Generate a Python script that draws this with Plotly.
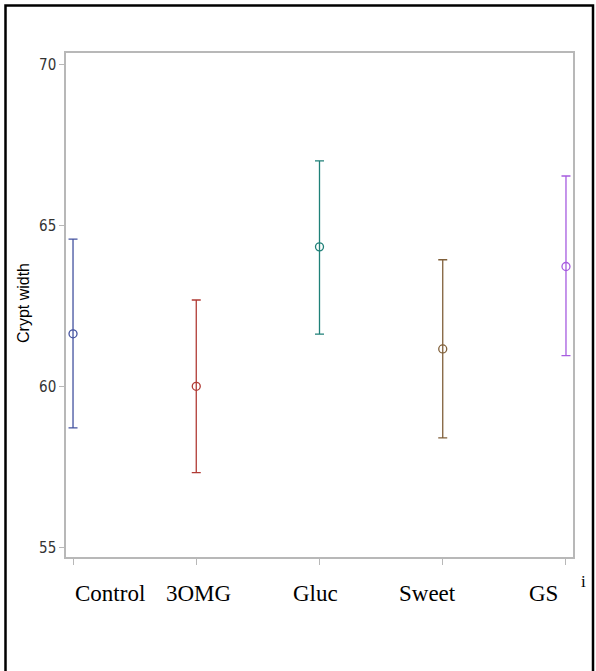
import plotly.graph_objects as go

groups = ["Control", "3OMG", "Gluc", "Sweet", "GS"]
means = [61.63, 60.00, 64.33, 61.16, 63.72]
upper = [64.57, 62.68, 67.00, 63.93, 66.53]
lower = [58.71, 57.32, 61.62, 58.40, 60.95]
colors = ["#4453a0", "#b03b35", "#1f8078", "#80603a", "#a75ce0"]
y_ticks = [55, 60, 65, 70]
label_shift = [37, 2, -4, -15, -22]

W, H = 596, 671
L, R, T, B = 66, 23, 53, 114
pw, ph = W - L - R, H - T - B

def px_x(p):
    return (p - L) / pw

def px_y(p):
    return (H - B - p) / ph

fig = go.Figure()
for i, g in enumerate(groups):
    fig.add_trace(go.Scatter(
        x=[i], y=[means[i]], mode="markers",
        marker=dict(symbol="circle-open", size=8, color=colors[i], line=dict(width=1.3)),
        error_y=dict(type="data", symmetric=False,
                     array=[upper[i] - means[i]], arrayminus=[means[i] - lower[i]],
                     color=colors[i], thickness=1.3, width=4.5),
        showlegend=False, hoverinfo="skip"))

annotations = []
for i, g in enumerate(groups):
    annotations.append(dict(x=i, xref="x", y=px_y(593), yref="paper", text=g,
                            showarrow=False, xshift=label_shift[i], xanchor="center", yanchor="middle",
                            font=dict(family="Liberation Serif, Times New Roman, serif", size=23, color="#000")))
annotations.append(dict(x=px_x(583), xref="paper", y=px_y(581), yref="paper", text="i",
                        showarrow=False, xanchor="center", yanchor="middle",
                        font=dict(family="Liberation Serif, serif", size=17, color="#000")))
annotations.append(dict(x=px_x(23), xref="paper", y=px_y(303), yref="paper", text="Crypt width",
                        textangle=-90, showarrow=False, xanchor="center", yanchor="middle",
                        font=dict(family="Liberation Sans, Arial, sans-serif", size=16, color="#000")))

frame_color = "#b8b8b8"
fig.update_layout(
    width=W, height=H, margin=dict(l=L, r=R, t=T, b=B),
    paper_bgcolor="white", plot_bgcolor="white",
    xaxis=dict(range=[-0.057, 4.057], tickvals=list(range(len(groups))), ticktext=["" for _ in groups],
               showgrid=False, zeroline=False, showline=True, linecolor=frame_color, linewidth=1.5,
               mirror=True, ticks="outside", ticklen=6, tickcolor=frame_color, tickwidth=1.2),
    yaxis=dict(range=[54.70, 70.35], tickvals=y_ticks, ticktext=[str(v) for v in y_ticks],
               showgrid=False, zeroline=False, showline=True, linecolor=frame_color, linewidth=1.5,
               mirror=True, ticks="outside", ticklen=5, tickcolor=frame_color, tickwidth=1.2,
               tickfont=dict(family="Liberation Sans Narrow, Arial Narrow, DejaVu Sans Condensed, sans-serif",
                             size=15, color="#333")),
    annotations=annotations,
    shapes=[dict(type="path", xref="paper", yref="paper",
                 path=f"M {px_x(5.5)} {px_y(700)} L {px_x(5.5)} {px_y(5.5)} L {px_x(593)} {px_y(5.5)} L {px_x(593)} {px_y(700)}",
                 line=dict(color="black", width=2.5))],
)

fig.write_html("out.html")
